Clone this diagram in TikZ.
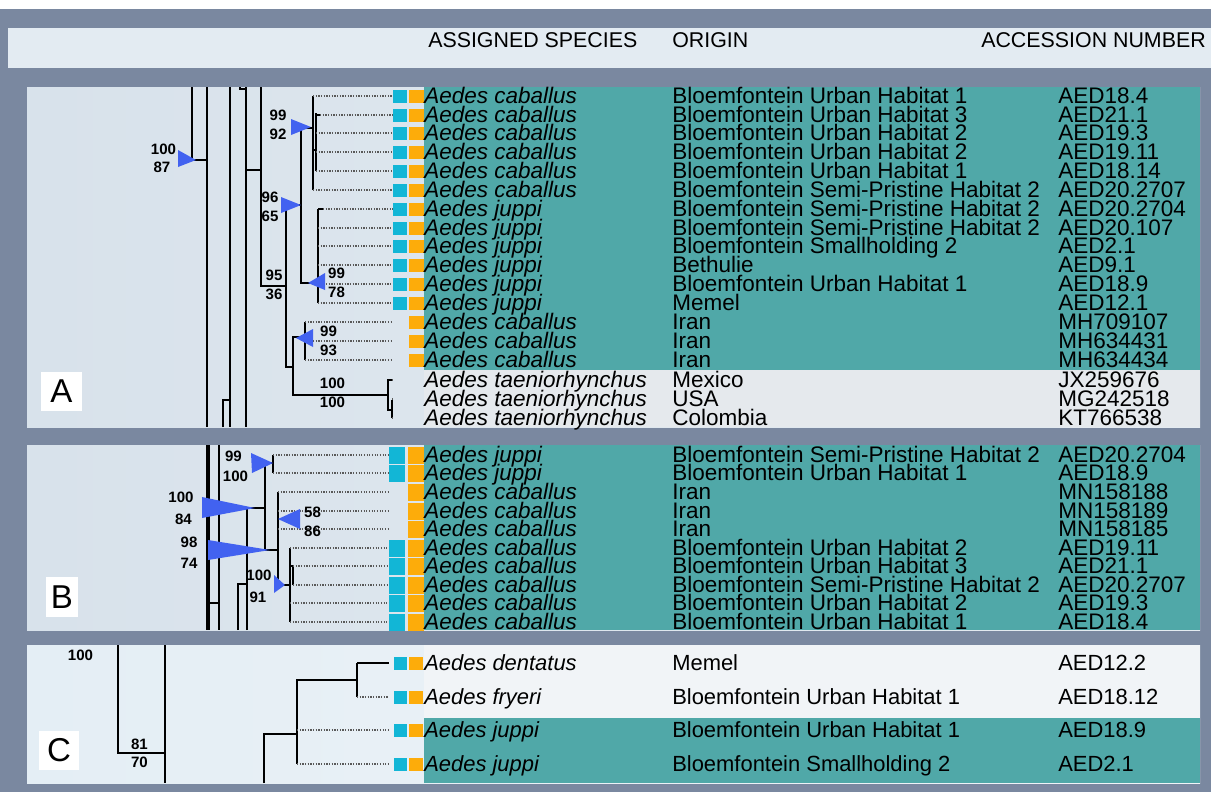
\documentclass[tikz,border=0pt]{standalone}
\usepackage{fontspec}
\setmainfont{Liberation Sans}
\usetikzlibrary{positioning}
\definecolor{framegray}{RGB}{122,136,160}
\definecolor{headbg}{RGB}{227,235,242}
\definecolor{panelbg}{RGB}{216,226,235}
\definecolor{panelbgr}{RGB}{228,235,241}
\definecolor{panelcbg}{RGB}{228,238,245}
\definecolor{tealrow}{RGB}{80,168,168}
\definecolor{lightrow}{RGB}{229,233,237}
\definecolor{lightrowc}{RGB}{241,244,247}
\definecolor{cyanbox}{RGB}{18,182,214}
\definecolor{orangebox}{RGB}{253,172,10}
\definecolor{bootblue}{RGB}{66,98,240}
\newcommand{\rowfont}{\fontsize{16}{16}\selectfont}
\newcommand{\rowfontc}{\fontsize{15.6}{16}\selectfont}
\newcommand{\headfont}{\fontsize{15.2}{16}\selectfont}
\newcommand{\bootfont}{\fontsize{10.7}{11}\selectfont\bfseries}
\newcommand{\panelfont}{\fontsize{23.5}{24}\selectfont}

\begin{document}
\begin{tikzpicture}[x=0.025cm,y=-0.025cm,
    tree/.style={line width=1.1pt},
    tipline/.style={densely dotted,line width=0.9pt,black!65},
    boot/.style={fill=bootblue},
    bs/.style={inner sep=0pt,font=\bootfont},
    head/.style={anchor=base west,inner sep=0pt,font=\headfont},
    sp/.style={anchor=base west,inner sep=0pt,font=\rowfont\itshape},
    txt/.style={anchor=base west,inner sep=0pt,font=\rowfont},
    spc/.style={anchor=base west,inner sep=0pt,font=\rowfontc\itshape},
    txtc/.style={anchor=base west,inner sep=0pt,font=\rowfontc},
    letter/.style={fill=white,inner sep=0pt,font=\panelfont}]
% frame and header band
\useasboundingbox (0,0) rectangle (1211,792);
\fill[framegray] (0,0) rectangle (1211,792);
\fill[white] (0,0) rectangle (1211,9);
\fill[headbg] (8,28) rectangle (1211,68);
\node[head] (hsp) at (428,47) {ASSIGNED SPECIES};
\node[head] (hor) at (672,47) {ORIGIN};
\node[head] (hac) at (981,47) {ACCESSION NUMBER};

% panel backgrounds
\shade[left color=panelbg,right color=panelbgr] (27,87) rectangle (1200,427);
\fill[tealrow] (424,87) rectangle (1200,370);
\fill[lightrow] (424,370) rectangle (1200,427);
\shade[left color=panelbg,right color=panelbgr] (27,445) rectangle (1200,630);
\fill[tealrow] (424,445) rectangle (1200,630);
\shade[left color=panelcbg,right color=lightrowc] (27,645) rectangle (1200,783);
\fill[lightrowc] (424,645) rectangle (1200,718);
\fill[tealrow] (424,718) rectangle (1200,783);

% panel A: tree
\draw[tree] (192,87) -- (192,160) -- (207,160);
\draw[tree] (207,87) -- (207,427);
\draw[tree] (230,87) -- (230,427);
\draw[tree] (240,87) -- (240,89) -- (246,89);
\draw[tree] (246,87) -- (246,427);
\draw[tree] (223,427) -- (223,400) -- (230,400);
\draw[tree] (246,170) -- (261,170);
\draw[tree] (261,87) -- (261,286) -- (286,286);
\draw[tree] (301,205) -- (286,205) -- (286,367) -- (293,367);
\draw[tree] (313,128) -- (301,128) -- (301,283) -- (318,283);
\draw[tree] (313,96) -- (313,190);
\draw[tree] (313,150) -- (316,150);
\draw[tree] (316,113) -- (316,171);
\draw[tree] (316,115) -- (320,115);
\draw[tree] (318,209) -- (318,303);
\draw[tree] (318,209) -- (323,209);
\draw[tree] (305,337) -- (293,337) -- (293,395) -- (388,395);
\draw[tree] (305,322) -- (305,360);
\draw[tree] (392,380) -- (388,380) -- (388,410) -- (392,410);
\draw[tree] (392,400) -- (392,418);
\foreach \x/\y in {313/96, 320/115, 316/133, 316/152, 316/171, 313/190,
                   323/209, 318/228, 318/246, 318/265, 318/284, 318/303,
                   305/322, 305/341, 305/360, 392/380, 392/399, 392/418}
  {\draw[tipline] (\x,\y) -- (393,\y);}
% panel A: bootstrap marks
\fill[boot] (178,150) -- (178,167) -- (196,160) -- cycle;
\fill[boot] (291,119) -- (291,135) -- (311,127) -- cycle;
\fill[boot] (281,197) -- (281,213) -- (301,205) -- cycle;
\fill[boot] (325,273) -- (325,290) -- (308,283) -- cycle;
\fill[boot] (313,329) -- (313,347) -- (296,338) -- cycle;
\node[bs] (a1t) at (163.5,149) {100};
\node[bs] (a1b) at (162,167) {87};
\node[bs] (a2t) at (278,115.5) {99};
\node[bs] (a2b) at (278,134.5) {92};
\node[bs] (a3t) at (270,197.5) {96};
\node[bs] (a3b) at (270,216) {65};
\node[bs] (a4t) at (274,275.5) {95};
\node[bs] (a4b) at (274,294) {36};
\node[bs] (a5t) at (336.5,273.5) {99};
\node[bs] (a5b) at (336.5,292.5) {78};
\node[bs] (a6t) at (328.5,331) {99};
\node[bs] (a6b) at (328.5,350) {93};
\node[bs] (a7t) at (332.5,383.5) {100};
\node[bs] (a7b) at (332.5,402.5) {100};
% panel A: sample boxes
\foreach \y in {96,115,133,152,171,190,209,228,246,265,284,303}
  {\fill[cyanbox] (393,\y-6.5) rectangle (407,\y+6.5);}
\foreach \y in {96,115,133,152,171,190,209,228,246,265,284,303,322,341,360}
  {\fill[orangebox] (409,\y-6.5) rectangle (424,\y+6.5);}
% panel A: rows
\foreach \y/\s/\o/\a [count=\i] in {
    96/Aedes caballus/Bloemfontein Urban Habitat 1/AED18.4,
    115/Aedes caballus/Bloemfontein Urban Habitat 3/AED21.1,
    133/Aedes caballus/Bloemfontein Urban Habitat 2/AED19.3,
    152/Aedes caballus/Bloemfontein Urban Habitat 2/AED19.11,
    171/Aedes caballus/Bloemfontein Urban Habitat 1/AED18.14,
    190/Aedes caballus/Bloemfontein Semi-Pristine Habitat 2/AED20.2707,
    209/Aedes juppi/Bloemfontein Semi-Pristine Habitat 2/AED20.2704,
    228/Aedes juppi/Bloemfontein Semi-Pristine Habitat 2/AED20.107,
    246/Aedes juppi/Bloemfontein Smallholding 2/AED2.1,
    265/Aedes juppi/Bethulie/AED9.1,
    284/Aedes juppi/Bloemfontein Urban Habitat 1/AED18.9,
    303/Aedes juppi/Memel/AED12.1,
    322/Aedes caballus/Iran/MH709107,
    341/Aedes caballus/Iran/MH634431,
    360/Aedes caballus/Iran/MH634434,
    380/Aedes taeniorhynchus/Mexico/JX259676,
    399/Aedes taeniorhynchus/USA/MG242518,
    418/Aedes taeniorhynchus/Colombia/KT766538}
  {\node[sp] (sa\i) at (424,\y+7.5) {\s};
   \node[txt] (oa\i) at (672,\y+7.5) {\o};
   \node[txt] (aa\i) at (1058,\y+7.5) {\a};}
\node[letter,minimum width=41*0.025cm,minimum height=39*0.025cm] (la) at (61.5,391.5) {A};

% panel B: tree
\draw[tree] (207,445) -- (207,630);
\draw[tree] (209,445) -- (209,630);
\draw[tree] (219,445) -- (219,630);
\draw[tree] (209,603) -- (219,603);
\draw[tree] (238,630) -- (238,584) -- (247,584);
\draw[tree] (247,630) -- (247,508) -- (265,508);
\draw[tree] (273,463) -- (265,463) -- (265,550) -- (278,550);
\draw[tree] (273,455) -- (273,473);
\draw[tree] (278,492) -- (278,585) -- (290,585);
\draw[tree] (290,548) -- (290,622);
\draw[tree] (290,566) -- (293,566) -- (293,585);
\foreach \x/\y in {273/455, 273/473, 278/492, 278/511, 278/529,
                   290/548, 293/566, 293/585, 290/603, 290/622}
  {\draw[tipline] (\x,\y) -- (389,\y);}
% panel B: bootstrap marks
\fill[boot] (251,453) -- (252,473) -- (273,463) -- cycle;
\fill[boot] (202,497) -- (202,518) -- (255,508) -- cycle;
\fill[boot] (208,540) -- (208,560) -- (270,550) -- cycle;
\fill[boot] (300,509) -- (300,529) -- (278,519) -- cycle;
\fill[boot] (274,575) -- (274,593) -- (285,585) -- cycle;
\node[bs] (b1t) at (233.5,456.5) {99};
\node[bs] (b1b) at (235.5,476.5) {100};
\node[bs] (b2t) at (181,497.5) {100};
\node[bs] (b2b) at (183.5,519.5) {84};
\node[bs] (b3t) at (189,542.5) {98};
\node[bs] (b3b) at (189,563.5) {74};
\node[bs] (b4t) at (312.5,512) {58};
\node[bs] (b4b) at (312.5,531.5) {86};
\node[bs] (b5t) at (259,575) {100};
\node[bs] (b5b) at (258,597) {91};
% panel B: sample boxes
\foreach \y in {455,473,548,566,585,603,622}
  {\fill[cyanbox] (389,\y-8.5) rectangle (405,\y+8.5);}
\foreach \y in {455,473,492,511,529,548,566,585,603,622}
  {\fill[orangebox] (408,\y-8.5) rectangle (424,\y+8.5);}
% panel B: rows
\foreach \y/\s/\o/\a [count=\i] in {
    455/Aedes juppi/Bloemfontein Semi-Pristine Habitat 2/AED20.2704,
    473/Aedes juppi/Bloemfontein Urban Habitat 1/AED18.9,
    492/Aedes caballus/Iran/MN158188,
    511/Aedes caballus/Iran/MN158189,
    529/Aedes caballus/Iran/MN158185,
    548/Aedes caballus/Bloemfontein Urban Habitat 2/AED19.11,
    566/Aedes caballus/Bloemfontein Urban Habitat 3/AED21.1,
    585/Aedes caballus/Bloemfontein Semi-Pristine Habitat 2/AED20.2707,
    603/Aedes caballus/Bloemfontein Urban Habitat 2/AED19.3,
    622/Aedes caballus/Bloemfontein Urban Habitat 1/AED18.4}
  {\node[sp] (sb\i) at (424,\y+7) {\s};
   \node[txt] (ob\i) at (672,\y+7) {\o};
   \node[txt] (ab\i) at (1058,\y+7) {\a};}
\node[letter,minimum width=32*0.025cm,minimum height=40*0.025cm] (lb) at (62,597) {B};

% panel C: tree
\draw[tree] (118,645) -- (118,753) -- (165,753);
\draw[tree] (165,645) -- (165,783);
\draw[tree] (264,783) -- (264,734) -- (297,734);
\draw[tree] (357,680) -- (297,680) -- (297,764);
\draw[tree] (357,663) -- (357,697);
\draw[tree] (357,663) -- (389,663);
\foreach \x/\y in {357/697, 297/730, 297/764}
  {\draw[tipline] (\x,\y) -- (389,\y);}
\node[bs] (c1) at (80.5,655) {100};
\node[bs] (c2t) at (139.5,744) {81};
\node[bs] (c2b) at (139.5,762) {70};
% panel C: sample boxes
\foreach \y in {663,697,730,764}
  {\fill[cyanbox] (394,\y-6.5) rectangle (407,\y+6.5);
   \fill[orangebox] (409,\y-6.5) rectangle (423,\y+6.5);}
% panel C: rows
\foreach \y/\s/\o/\a [count=\i] in {
    663/Aedes dentatus/Memel/AED12.2,
    697/Aedes fryeri/Bloemfontein Urban Habitat 1/AED18.12,
    730/Aedes juppi/Bloemfontein Urban Habitat 1/AED18.9,
    764/Aedes juppi/Bloemfontein Smallholding 2/AED2.1}
  {\node[spc] (sc\i) at (424,\y+7) {\s};
   \node[txtc] (oc\i) at (672,\y+7) {\o};
   \node[txtc] (ac\i) at (1058,\y+7) {\a};}
\node[letter,minimum width=40*0.025cm,minimum height=39*0.025cm] (lc) at (59,750.5) {C};
\end{tikzpicture}
\end{document}
